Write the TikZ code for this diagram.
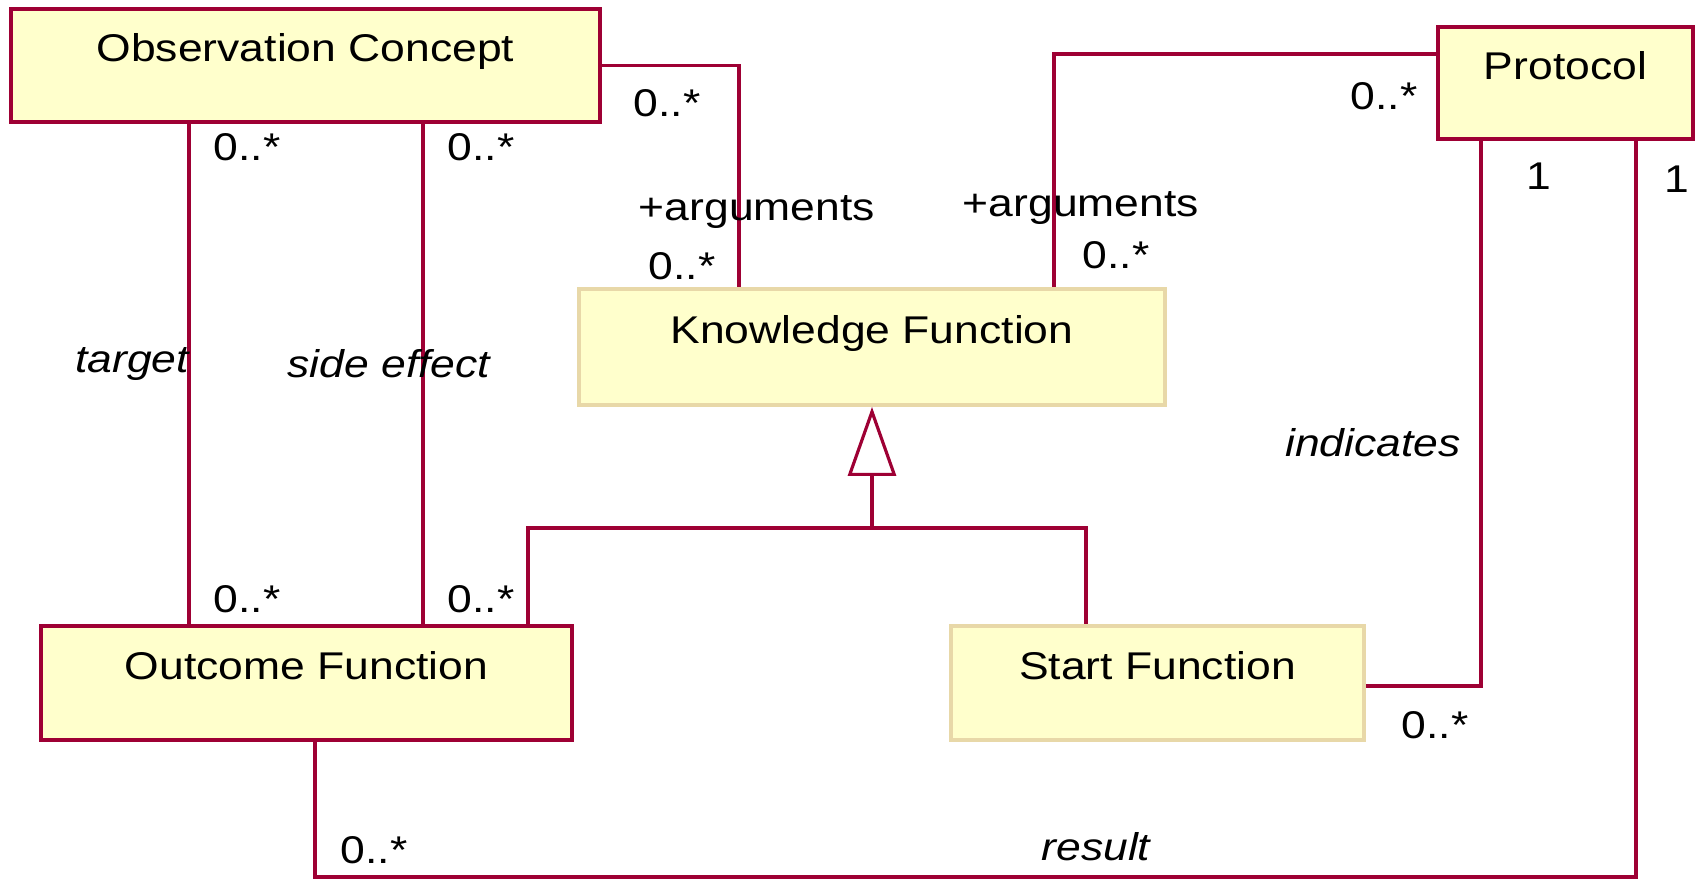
\documentclass[tikz,border=0pt]{standalone}
\usepackage{fontspec}
\setmainfont{Liberation Sans}[FakeStretch=1.15]
\usetikzlibrary{arrows.meta}
\definecolor{umlred}{RGB}{158,0,52}
\definecolor{umlfill}{RGB}{255,255,204}
\definecolor{umlbeige}{RGB}{232,216,168}

\begin{document}
\begin{tikzpicture}[
    font=\fontsize{11}{13}\selectfont,
    cls/.style={draw=umlred, line width=1.1pt, fill=umlfill, rectangle, inner sep=0pt, text height=2.5mm, text depth=3.2mm},
    subcls/.style={cls, draw=umlbeige},
    assoc/.style={draw=umlred, line width=0.9pt},
    mult/.style={inner sep=1pt},
    role/.style={inner sep=1pt, font=\fontsize{11}{13}\selectfont\itshape}]
    \useasboundingbox (0,0) rectangle (17.02,8.81);

    \node[cls, minimum width=5.89cm, minimum height=1.13cm](obs) at (3.055,8.155){Observation Concept};
    \node[cls, minimum width=2.55cm, minimum height=1.12cm](proto) at (15.655,7.98){Protocol};
    \node[subcls, minimum width=5.86cm, minimum height=1.16cm](know) at (8.72,5.34){Knowledge Function};
    \node[cls, minimum width=5.31cm, minimum height=1.14cm](outc) at (3.065,1.98){Outcome Function};
    \node[subcls, minimum width=4.13cm, minimum height=1.14cm](start) at (11.575,1.98){Start Function};

    \coordinate (tgt) at (1.89,0);
    \coordinate (sde) at (4.23,0);
    \coordinate (ind) at (14.81,0);
    \coordinate (genl) at (5.28,3.53);
    \coordinate (genj) at (8.72,3.53);
    \coordinate (genr) at (10.86,3.53);
    \coordinate (resl) at (3.15,0.04);
    \coordinate (resr) at (16.36,0.04);

    \draw[assoc](obs.east) -| ([xshift=-1.33cm]know.north);
    \draw[assoc]([yshift=0.29cm]proto.west) -| ([xshift=1.82cm]know.north);
    \draw[assoc](obs.south -| tgt) -- (outc.north -| tgt);
    \draw[assoc](obs.south -| sde) -- (outc.north -| sde);
    \draw[assoc](outc.north -| genl) -- (genl) -- (genr) -- (start.north -| genr);
    \draw[assoc, -{Triangle[open, fill=white, length=6.9mm, width=4.8mm]}](genj) -- (know.south);
    \draw[assoc]([yshift=-0.03cm]start.east) -| (proto.south -| ind);
    \draw[assoc](proto.south -| resr) -- (resr) -- (resl) -- (outc.south -| resl);

    \node[mult](m1) at (6.67,7.78){0..*};
    \node[mult](a1) at (7.57,6.69){+arguments};
    \node[mult](m2) at (6.82,6.15){0..*};
    \node[mult](a2) at (10.81,6.73){+arguments};
    \node[mult](m3) at (11.16,6.26){0..*};
    \node[mult](m4) at (13.84,7.85){0..*};
    \node[mult](o1) at (15.39,7.05){1};
    \node[mult](o2) at (16.77,7.02){1};
    \node[mult](m5) at (2.47,7.34){0..*};
    \node[mult](m6) at (4.81,7.34){0..*};
    \node[role](r1) at (1.32,5.17){target};
    \node[role](r2) at (3.89,5.17){side effect};
    \node[role](r3) at (13.73,4.38){indicates};
    \node[mult](m7) at (2.47,2.82){0..*};
    \node[mult](m8) at (4.81,2.82){0..*};
    \node[mult](m9) at (14.35,1.56){0..*};
    \node[mult](m10) at (3.74,0.31){0..*};
    \node[role](r4) at (10.96,0.34){result};
\end{tikzpicture}
\end{document}
